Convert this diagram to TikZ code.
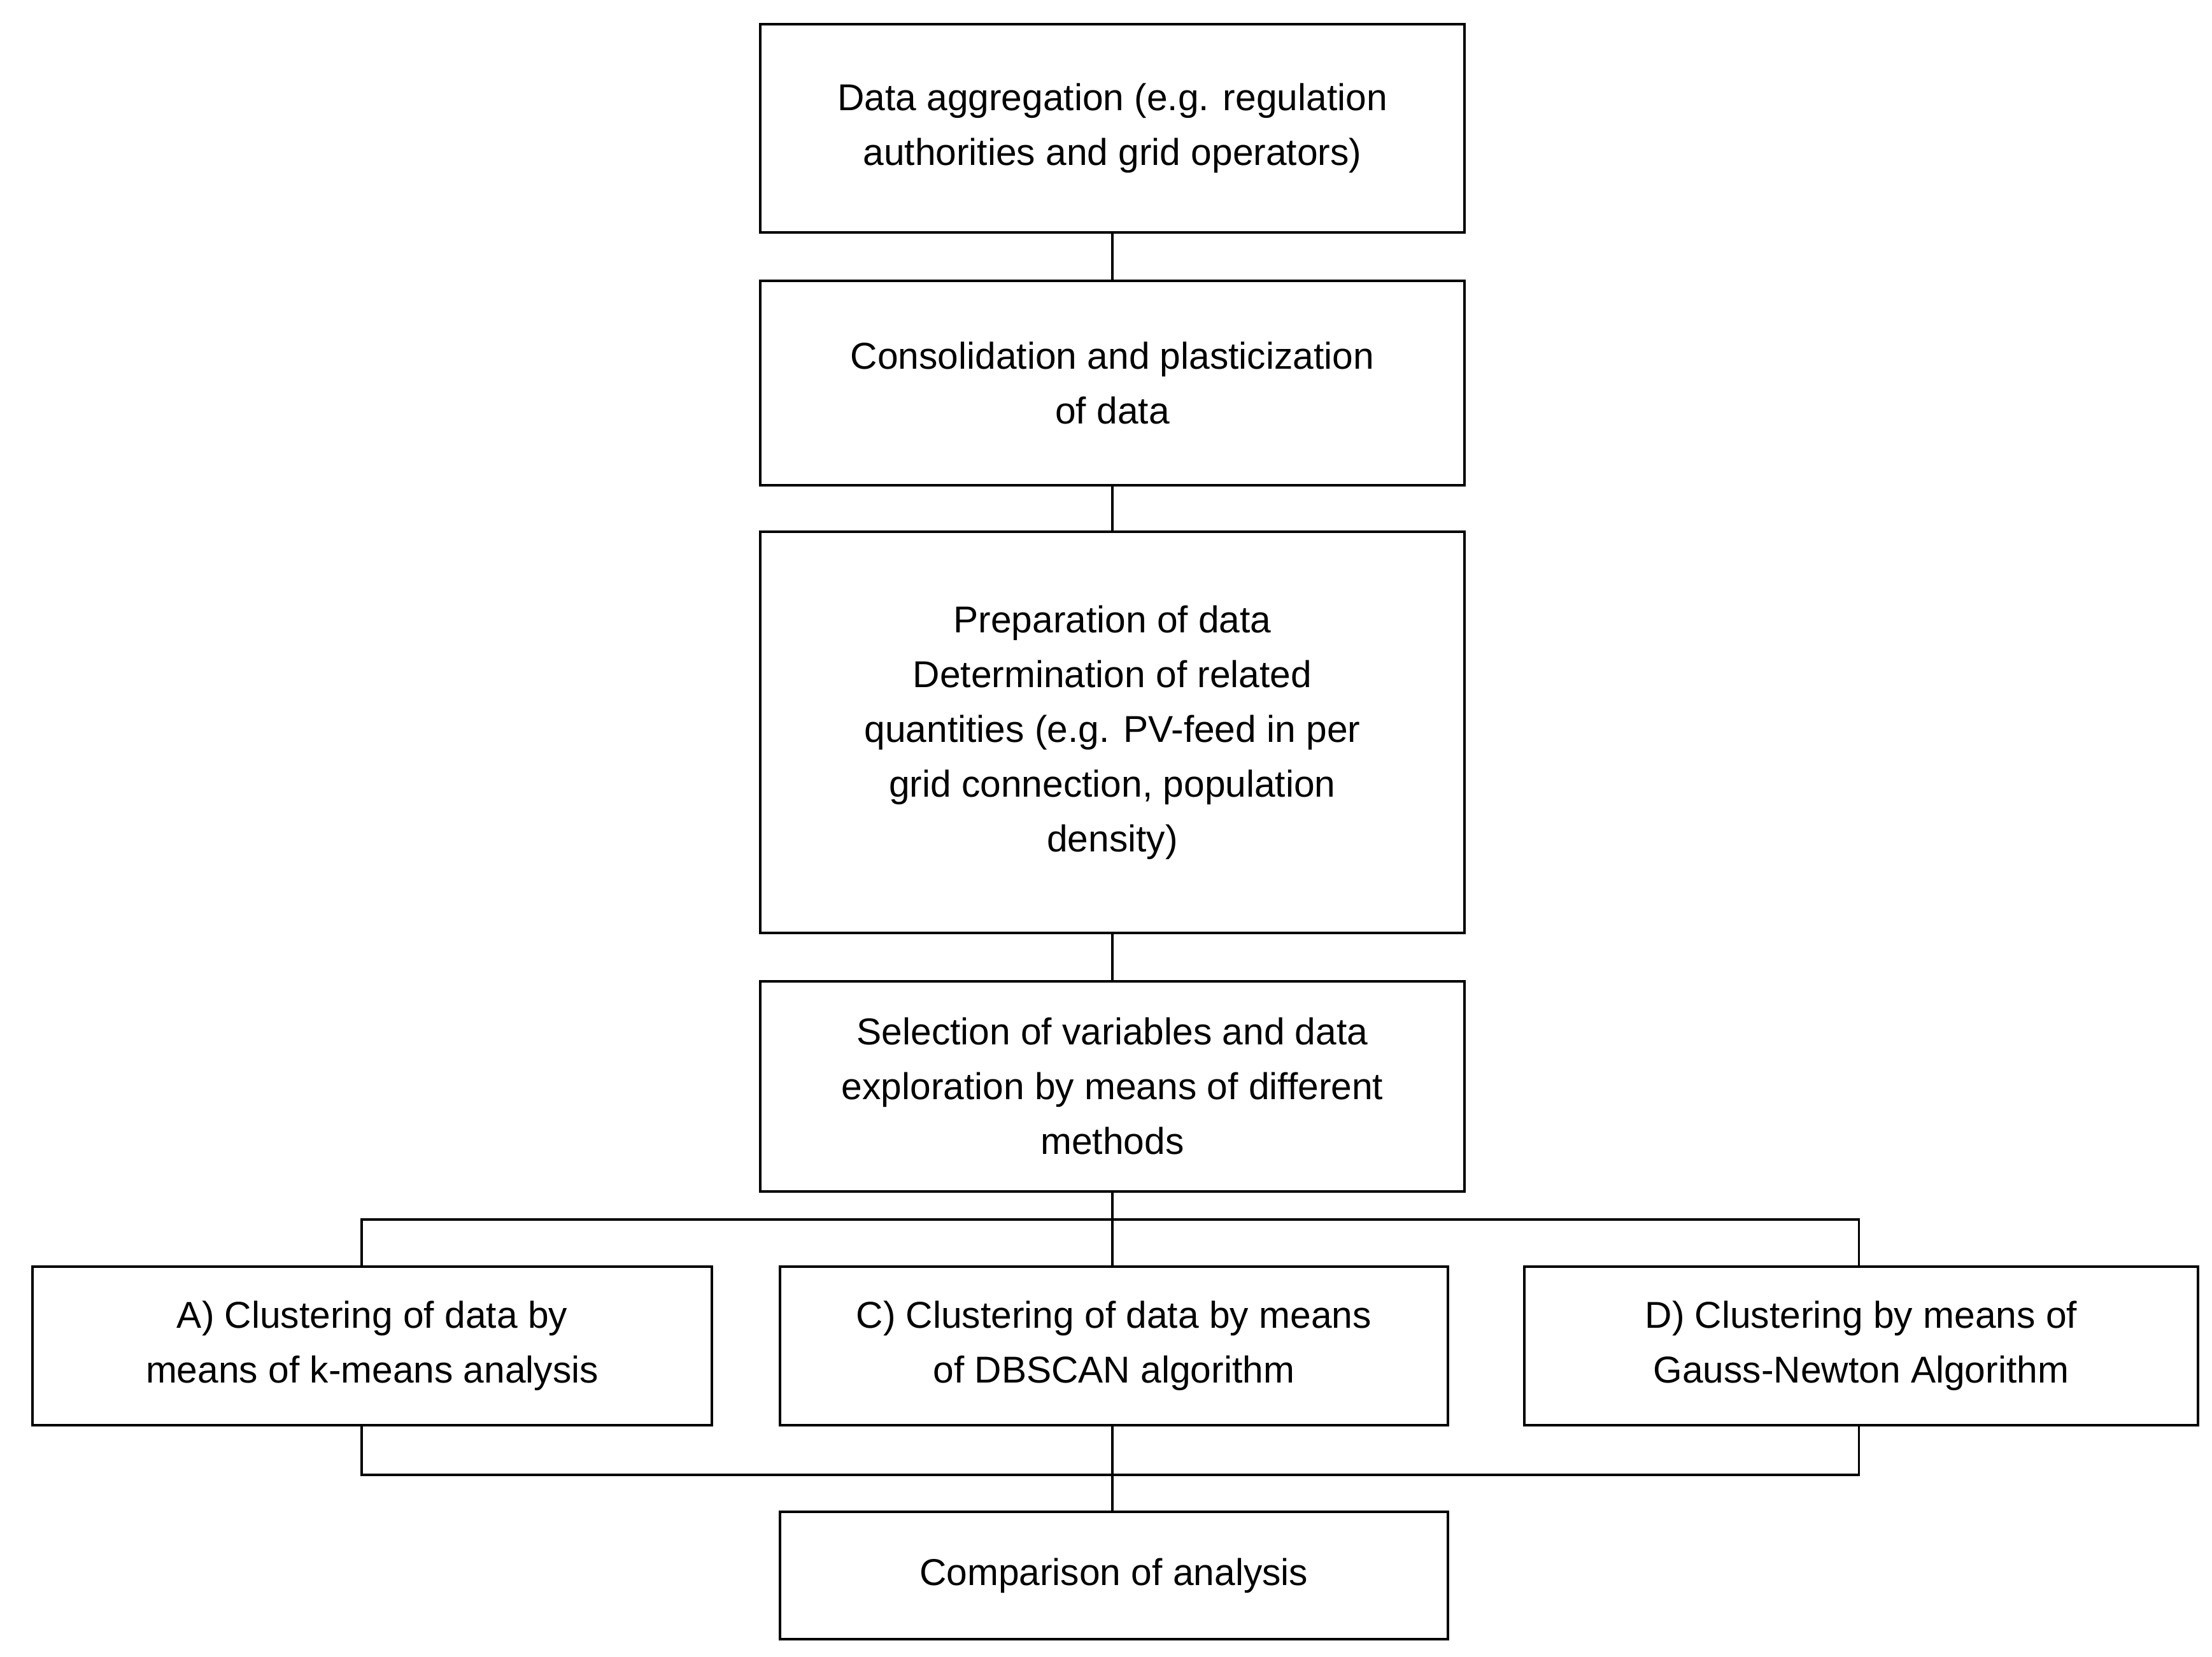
\documentclass[tikz,border=0pt]{standalone}
\usepackage{fontspec}
\setmainfont{Liberation Sans}
\begin{document}
\begin{tikzpicture}[x=0.02cm,y=-0.02cm,
  box/.style={draw,line width=1pt,align=center,inner sep=0pt,font=\fontsize{15}{22}\selectfont},
  ln/.style={line width=1pt}]
\useasboundingbox (0,0) rectangle (1560,1168);
\node[box,minimum width=497*0.02cm,minimum height=147*0.02cm] (b1) at (784.5,90.5) {Data aggregation (e.g. regulation\\authorities and grid operators)};
\node[box,minimum width=497*0.02cm,minimum height=144*0.02cm] (b2) at (784.5,270) {Consolidation and plasticization\\of data};
\node[box,minimum width=497*0.02cm,minimum height=283*0.02cm] (b3) at (784.5,516.5) {Preparation of data\\Determination of related\\quantities (e.g. PV-feed in per\\grid connection, population\\density)};
\node[box,minimum width=497*0.02cm,minimum height=148*0.02cm] (b4) at (784.5,766) {Selection of variables and data\\exploration by means of different\\methods};
\node[box,minimum width=479*0.02cm,minimum height=112*0.02cm] (a) at (262.5,949) {A) Clustering of data by\\means of k-means analysis};
\node[box,minimum width=471*0.02cm,minimum height=112*0.02cm] (c) at (785.5,949) {C) Clustering of data by means\\of DBSCAN algorithm};
\node[box,minimum width=475*0.02cm,minimum height=112*0.02cm] (d) at (1312.5,949) {D) Clustering by means of\\Gauss-Newton Algorithm};
\node[box,minimum width=471*0.02cm,minimum height=90*0.02cm] (f) at (785.5,1111) {Comparison of analysis};
\coordinate (t1) at (255,860); \coordinate (t2) at (1311,860); \coordinate (tm) at (784.5,860);
\coordinate (u1) at (255,1040); \coordinate (u2) at (1311,1040); \coordinate (um) at (784.5,1040);
\draw[ln] (b1) -- (b2); \draw[ln] (b2) -- (b3); \draw[ln] (b3) -- (b4);
\draw[ln] (b4.south) -- (tm);
\draw[ln] (t1 |- a.north) -- (t1) -- (t2) -- (t2 |- d.north);
\draw[ln] (tm) -- (tm |- c.north);
\draw[ln] (u1 |- a.south) -- (u1) -- (u2) -- (u2 |- d.south);
\draw[ln] (um |- c.south) -- (um) -- (um |- f.north);
\end{tikzpicture}
\end{document}
